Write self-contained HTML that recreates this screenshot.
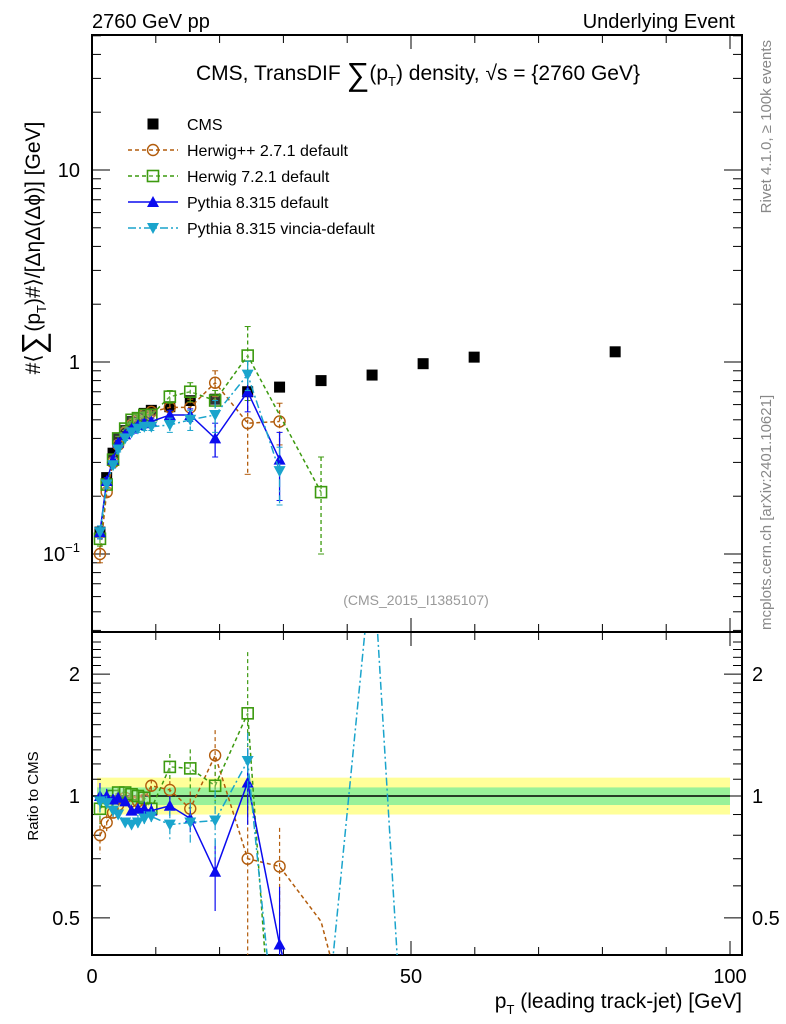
<!DOCTYPE html>
<html><head><meta charset="utf-8">
<style>
body{margin:0;background:#fff;overflow:hidden;}
svg{display:block;font-family:"Liberation Sans",Arial,sans-serif;}
</style></head>
<body>
<svg id="chart" width="786" height="1024" viewBox="0 0 786 1024" xmlns="http://www.w3.org/2000/svg">
<text x="92" y="28" font-size="20">2760 GeV pp</text>
<text x="735" y="28" font-size="20" text-anchor="end">Underlying Event</text>
<text x="418" y="80" font-size="21" text-anchor="middle">CMS, TransDIF <tspan font-size="32" dy="5">∑</tspan><tspan dy="-5">(p</tspan><tspan font-size="13" dy="6">T</tspan><tspan dy="-6">) density, √s = {2760 GeV}</tspan></text>
<text transform="translate(771,40) rotate(-90)" font-size="15" fill="#888" text-anchor="end">Rivet 4.1.0, ≥ 100k events</text>
<text transform="translate(771,630) rotate(-90)" font-size="15" fill="#888">mcplots.cern.ch [arXiv:2401.10621]</text>
<text x="416" y="605" font-size="14" fill="#999" text-anchor="middle">(CMS_2015_I1385107)</text>
<text transform="translate(40,248) rotate(-90)" font-size="21" text-anchor="middle">#⟨<tspan font-size="32" dy="4">∑</tspan><tspan dy="-4">(p</tspan><tspan font-size="13" dy="6">T</tspan><tspan dy="-6">)#⟩/[ΔηΔ(Δϕ)] [GeV]</tspan></text>
<text transform="translate(38,796) rotate(-90)" font-size="15" text-anchor="middle">Ratio to CMS</text>
<text x="742" y="1008" font-size="21" text-anchor="end">p<tspan font-size="13" dy="6">T</tspan><tspan dy="-6"> (leading track-jet) [GeV]</tspan></text>
<g id="main"></g>
<g id="ratio"></g>
<g id="legend"></g>
</svg>
<script>
const xs = [1.25,2.3,3.3,4.1,5.2,6.2,7.2,8.2,9.3,12.2,15.4,19.3,24.4,29.4,35.9,43.9,51.9,59.9,82.0];
const cmsY = [0.13,0.25,0.335,0.40,0.44,0.49,0.51,0.54,0.56,0.585,0.63,0.64,0.70,0.74,0.80,0.855,0.98,1.06,1.13];
const hppVals = [0.10,0.21,0.30,0.37,0.43,0.47,0.50,0.53,0.55,0.58,0.58,0.78,0.48,0.49,null];
const hppErr = [0.01,0.01,0.01,0.01,0.01,0.01,0.02,0.02,0.02,0.03,0.06,0.12,0.22,0.12,null];
const h7Vals = [0.12,0.23,0.31,0.40,0.45,0.50,0.51,0.53,0.53,0.66,0.70,0.63,1.08,null,0.21];
const h7Err = [0.01,0.01,0.01,0.01,0.01,0.01,0.02,0.02,0.02,0.05,0.08,0.08,0.45,null,0.11];
const pyVals = [0.13,0.24,0.31,0.38,0.42,0.45,0.47,0.48,0.49,0.53,0.53,0.40,0.70,0.31,null];
const pyErr = [0.01,0.01,0.01,0.01,0.01,0.01,0.01,0.02,0.02,0.03,0.04,0.08,0.15,0.12,null];
const vinVals = [0.13,0.23,0.29,0.35,0.40,0.43,0.45,0.46,0.46,0.47,0.50,0.53,0.86,0.27,null];
const vinErr = [0.01,0.01,0.01,0.01,0.01,0.01,0.02,0.02,0.02,0.04,0.06,0.10,0.15,0.09,null];
const rHpp = [0.80,0.86,0.91,0.95,0.99,0.97,0.97,0.98,1.06,1.035,0.93,1.26,0.70,0.67,0.49,0.30];
const rH7 = [0.93,0.97,1.0,1.02,1.02,1.01,1.0,0.99,0.93,1.18,1.17,1.06,1.6,0.2];
const rPy = [1.0,1.0,0.98,0.99,0.97,0.92,0.93,0.93,0.92,0.946,0.88,0.65,1.08,0.43,0.3];
const rVin = [0.97,0.96,0.92,0.90,0.86,0.85,0.86,0.88,0.89,0.85,0.86,0.87,1.22,0.2,0.2,4.0,0.2];
const rVinX = [1.25,2.3,3.3,4.1,5.2,6.2,7.2,8.2,9.3,12.2,15.4,19.3,24.4,29.4,35.9,44,49];
const rHppX = [1.25,2.3,3.3,4.1,5.2,6.2,7.2,8.2,9.3,12.2,15.4,19.3,24.4,29.4,35.9,39.5];
const rPyX = [1.25,2.3,3.3,4.1,5.2,6.2,7.2,8.2,9.3,12.2,15.4,19.3,24.4,29.4,32];
const rH7X = [1.25,2.3,3.3,4.1,5.2,6.2,7.2,8.2,9.3,12.2,15.4,19.3,24.4,28.5];

const NS="http://www.w3.org/2000/svg";
const L=92,R=742,T=35,MB=632,RB=955;
const X=v=>92+v*6.38;
const Y=v=>362-192*Math.log10(v);
const YR=v=>796-405*Math.log10(v);
function el(tag,attrs,parent){const e=document.createElementNS(NS,tag);for(const k in attrs)e.setAttribute(k,attrs[k]);parent.appendChild(e);return e;}
const main=document.getElementById('main'),ratio=document.getElementById('ratio'),leg=document.getElementById('legend');

const defs=el('defs',{},document.getElementById('chart'));
const c1=el('clipPath',{id:'cm'},defs);el('rect',{x:L,y:T,width:R-L,height:MB-T},c1);
const c2=el('clipPath',{id:'cr'},defs);el('rect',{x:L,y:MB,width:R-L,height:RB-MB},c2);

const gb=el('g',{'clip-path':'url(#cr)'},ratio);
let b=el('rect',{x:X(0.8),y:YR(1.11),width:X(100)-X(0.8),height:YR(0.9)-YR(1.11),fill:'#ffff99'},gb);


b=el('rect',{x:X(0.8),y:YR(1.05),width:X(100)-X(0.8),height:YR(0.95)-YR(1.05),fill:'#99f199'},gb);


el('line',{x1:L,x2:X(100),y1:YR(1),y2:YR(1),stroke:'#000','stroke-width':1.5},gb);

el('rect',{x:L,y:T,width:R-L,height:MB-T,fill:'none',stroke:'#000','stroke-width':2},main);
el('rect',{x:L,y:MB,width:R-L,height:RB-MB,fill:'none',stroke:'#000','stroke-width':2},ratio);

for(let v=0;v<=100;v+=10){
  const big=v%50===0;const l=big?14:8;
  [[T,1],[MB,-1],[MB,1],[RB,-1]].forEach(([y,d])=>el('line',{x1:X(v),x2:X(v),y1:y,y2:y+d*l,stroke:'#000','stroke-width':1},main));
  if(big){const t=el('text',{x:X(v),y:983,'font-size':20,'text-anchor':'middle'},ratio);t.textContent=v;
    
    }
}
for(let e=-2;e<=1;e++){for(let m=1;m<10;m++){const v=m*Math.pow(10,e);const y=Y(v);if(y<T||y>MB)continue;
  const l=m===1?18:9;el('line',{x1:L,x2:L+l,y1:y,y2:y,stroke:'#000'},main);el('line',{x1:R,x2:R-l,y1:y,y2:y,stroke:'#000'},main);}}
[[10,'10'],[1,'1']].forEach(([v,s])=>{const t=el('text',{x:80,y:Y(v)+7,'font-size':20,'text-anchor':'end'},main);t.textContent=s;
  
  });
{const t=el('text',{x:80,y:Y(0.1)+7,'font-size':20,'text-anchor':'end'},main);t.innerHTML='10<tspan font-size="13" dy="-9">−1</tspan>';
  
  }
for(let v=0.5;v<=2.5;v+=0.1){const y=YR(v);if(y<MB||y>RB)continue;const big=Math.abs(v-0.5)<1e-6||Math.abs(v-1)<1e-6||Math.abs(v-2)<1e-6;const l=big?18:9;
  el('line',{x1:L,x2:L+l,y1:y,y2:y,stroke:'#000'},ratio);el('line',{x1:R,x2:R-l,y1:y,y2:y,stroke:'#000'},ratio);}
[[2,'2'],[1,'1'],[0.5,'0.5']].forEach(([v,s])=>{[80,752].forEach(x=>{const t=el('text',{x:x,y:YR(v)+7,'font-size':20,'text-anchor':x<100?'end':'start'},ratio);t.textContent=s;
  
  });});

function marker(g,type,x,y,c){
  if(type==='sq')el('rect',{x:x-5.5,y:y-5.5,width:11,height:11,fill:'#000'},g);
  else if(type==='osq')el('rect',{x:x-5.5,y:y-5.5,width:11,height:11,fill:'#fff','fill-opacity':0.2,stroke:c,'stroke-width':1.6},g);
  else if(type==='circ')el('circle',{cx:x,cy:y,r:5.5,fill:'none',stroke:c,'stroke-width':1.4},g);
  else if(type==='tri')el('path',{d:`M${x-6},${y+5}L${x+6},${y+5}L${x},${y-6}Z`,fill:c},g);
  else if(type==='itri')el('path',{d:`M${x-6},${y-5}L${x+6},${y-5}L${x},${y+6}Z`,fill:c},g);
}
const series=[
 {name:'herwigpp',vals:hppVals,err:hppErr,c:'#b25c0c',m:'circ',dash:'4,3',r:rHpp,rx:rHppX},
 {name:'herwig7',vals:h7Vals,err:h7Err,c:'#3c9a0f',m:'osq',dash:'4,3',r:rH7,rx:rH7X},
 {name:'pythia',vals:pyVals,err:pyErr,c:'#0b0bef',m:'tri',dash:'',r:rPy,rx:rPyX},
 {name:'vincia',vals:vinVals,err:vinErr,c:'#1aa4cc',m:'itri',dash:'8,3,2,3',r:rVin,rx:rVinX},
];
const gm=el('g',{'clip-path':'url(#cm)'},main);
const gr=el('g',{'clip-path':'url(#cr)'},ratio);
const gc=el('g',{},gm);


cmsY.forEach((v,i)=>marker(gc,'sq',X(xs[i]),Y(v),'#000'));
series.forEach(s=>{
  const g=el('g',{},gm);
  
  
  let pts=[];s.vals.forEach((v,i)=>{if(v!=null)pts.push([X(xs[i]),Y(v)]);});
  el('polyline',{points:pts.map(p=>p.join(',')).join(' '),fill:'none',stroke:s.c,'stroke-width':1.5,'stroke-dasharray':s.dash},g);
  s.vals.forEach((v,i)=>{if(v==null)return;const x=X(xs[i]);
    const e=s.err[i];const y1=Y(v+e),y2=Y(Math.max(v-e,0.01));
    el('line',{x1:x,x2:x,y1:y1,y2:y2,stroke:s.c,'stroke-width':1.3,'stroke-dasharray':s.dash},g);
    el('line',{x1:x-3,x2:x+3,y1:y1,y2:y1,stroke:s.c},g);el('line',{x1:x-3,x2:x+3,y1:y2,y2:y2,stroke:s.c},g);
    marker(g,s.m,x,Y(v),s.c);});
  const g2=el('g',{},gr);
  
  
  el('polyline',{points:s.r.map((v,i)=>X(s.rx[i])+','+YR(v)).join(' '),fill:'none',stroke:s.c,'stroke-width':1.5,'stroke-dasharray':s.dash},g2);
  s.r.forEach((v,i)=>{if(i<s.vals.length&&s.vals[i]!=null&&v>0.41&&v<2.5){const x=X(s.rx[i]);const re=s.err[i]/s.vals[i]*v;
    el('line',{x1:x,x2:x,y1:YR(v+re),y2:YR(Math.max(v-re,0.3)),stroke:s.c,'stroke-width':1.2,'stroke-dasharray':s.dash},g2);
    marker(g2,s.m,x,YR(v),s.c);}});
});

const items=[['CMS','sq','#000',''],['Herwig++ 2.7.1 default','circ','#b25c0c','4,3'],['Herwig 7.2.1 default','osq','#3c9a0f','4,3'],['Pythia 8.315 default','tri','#0b0bef',''],['Pythia 8.315 vincia-default','itri','#1aa4cc','8,3,2,3']];
items.forEach((it,i)=>{const y=124+i*26;const g=el('g',{},leg);
  
  
  if(i>0)el('line',{x1:128,x2:178,y1:y,y2:y,stroke:it[2],'stroke-width':1.5,'stroke-dasharray':it[3]},g);
  marker(g,it[1],153,y,it[2]);
  const t=el('text',{x:187,y:y+6,'font-size':16},g);t.textContent=it[0];});
</script>
</body></html>
